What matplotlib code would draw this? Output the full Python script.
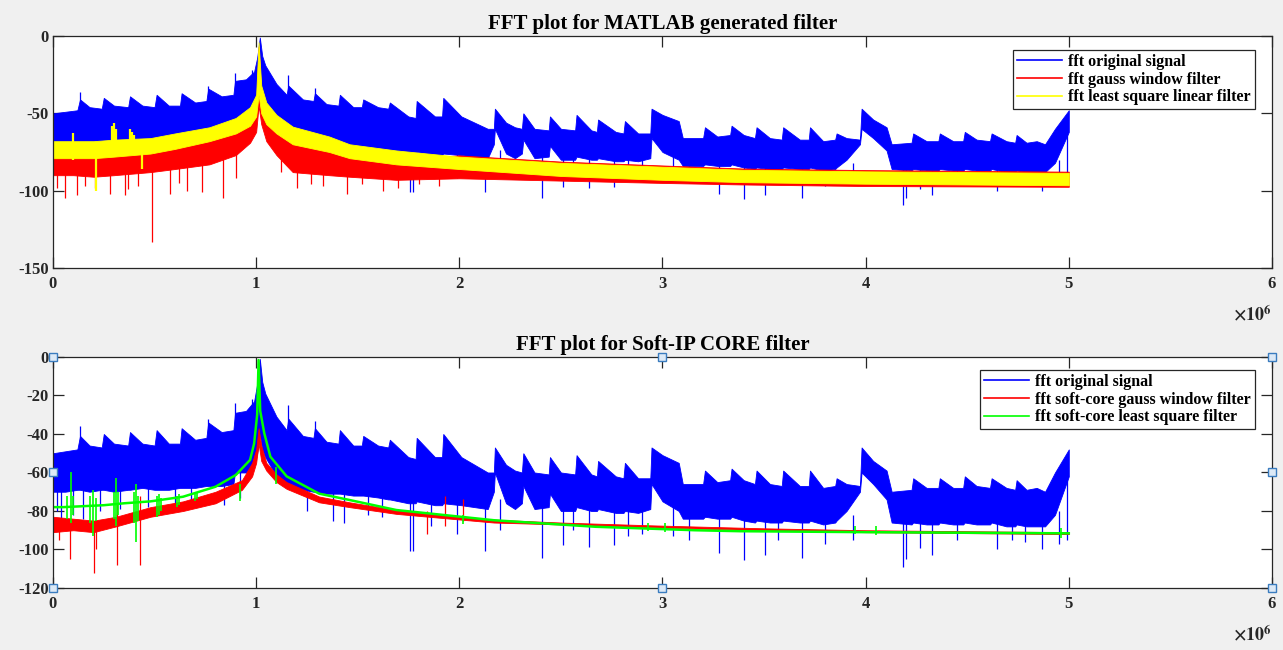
import numpy as np
import matplotlib
matplotlib.use("Agg")
import matplotlib.pyplot as plt
from matplotlib.lines import Line2D

plt.rcParams['font.family'] = ['Liberation Serif', 'DejaVu Serif']
plt.rcParams['font.weight'] = 'bold'
plt.rcParams['mathtext.fontset'] = 'stix'
plt.rcParams['axes.unicode_minus'] = False

# frequency axis in units of 1e6 Hz, magnitudes in dB

# original signal (same in both plots): dense band, upper / lower edge
blue_x = [0.000, 0.060, 0.120, 0.133, 0.180, 0.240, 0.250, 0.300, 0.370, 0.379,
          0.440, 0.500, 0.510, 0.570, 0.625, 0.633, 0.700, 0.755, 0.764, 0.830,
          0.888, 0.896, 0.950, 0.990, 1.005, 1.018, 1.030, 1.045, 1.100, 1.150,
          1.158, 1.230, 1.282, 1.289, 1.346, 1.405, 1.412, 1.478, 1.520, 1.527,
          1.600, 1.650, 1.658, 1.749, 1.785, 1.790, 1.880, 1.915, 1.921, 2.010,
          2.140, 2.170, 2.175, 2.230, 2.274, 2.308, 2.315, 2.370, 2.440, 2.446,
          2.500, 2.570, 2.577, 2.650, 2.677, 2.683, 2.770, 2.808, 2.815, 2.880,
          2.940, 2.946, 3.000, 3.080, 3.100, 3.200, 3.209, 3.270, 3.333, 3.340,
          3.400, 3.455, 3.463, 3.529, 3.587, 3.594, 3.676, 3.720, 3.726, 3.791,
          3.850, 3.857, 3.906, 3.972, 3.980, 4.037, 4.103, 4.128, 4.226, 4.234,
          4.300, 4.358, 4.365, 4.431, 4.480, 4.488, 4.546, 4.612, 4.620, 4.693,
          4.736, 4.743, 4.792, 4.842, 4.883, 4.932, 5.000]
blue_top = [-50, -49, -48, -41, -46, -47, -40, -45, -46, -39,
            -45, -46, -38, -45, -45, -37, -43, -42, -34, -39,
            -38, -29, -28, -23, -14, -1, -13, -19, -31, -38,
            -32, -41, -42, -37, -44, -45, -38, -46, -46, -41,
            -46, -47, -43, -52, -53, -42, -52, -52, -40, -52,
            -60, -60, -47, -56, -59, -60, -50, -60, -61, -52,
            -60, -61, -51, -61, -62, -54, -62, -63, -55, -63,
            -63, -47, -51, -55, -66, -66, -59, -65, -64, -58,
            -64, -66, -59, -66, -67, -59, -67, -67, -59, -68,
            -67, -63, -66, -67, -47, -54, -59, -70, -69, -63,
            -68, -68, -63, -68, -68, -62, -67, -68, -63, -68,
            -69, -64, -69, -68, -70, -60, -48]
blue_bot = [-70, -70, -69, -69, -70, -69, -69, -70, -69, -69,
            -68, -69, -69, -69, -68, -68, -68, -67, -67, -67,
            -66, -60, -60, -56, -50, -40, -48, -52, -62, -66,
            -66, -69, -70, -70, -71, -71, -71, -72, -72, -72,
            -73, -74, -74, -76, -76, -75, -77, -77, -76, -77,
            -79, -70, -60, -76, -79, -76, -67, -79, -78, -71,
            -80, -80, -78, -80, -80, -79, -81, -81, -80, -81,
            -79, -66, -75, -80, -84, -84, -83, -84, -84, -83,
            -85, -86, -85, -86, -86, -85, -86, -86, -85, -87,
            -86, -85, -80, -70, -60, -66, -74, -86, -87, -86,
            -87, -87, -86, -87, -87, -86, -87, -87, -86, -88,
            -88, -87, -88, -88, -88, -82, -62]
# thin excursions of the original signal
blue_spk_x = [0.02, 0.04, 0.10, 0.15, 0.23, 0.33, 0.47, 0.60, 0.68, 0.84, 0.92,
              1.25, 1.38, 1.43, 1.55, 1.62, 1.757, 1.77, 1.86, 1.99, 2.126, 2.20,
              2.405, 2.51, 2.56, 2.64, 2.76, 2.83, 2.90, 3.05, 3.13, 3.28, 3.40,
              3.504, 3.57, 3.685, 3.80, 3.94, 4.185, 4.20, 4.27, 4.325, 4.45,
              4.645, 4.72, 4.785, 4.87, 4.95, 4.99]
blue_spk_lo = [-80, -85, -82, -84, -80, -79, -78, -79, -78, -77, -73,
               -80, -85, -86, -82, -83, -101, -101, -88, -92, -101, -90,
               -104.6, -97.7, -90, -98.5, -97.7, -93, -92, -93, -95, -102, -105.5,
               -103, -95, -104.6, -97, -95, -109, -105, -99, -103, -95,
               -100, -95, -96, -100, -97, -95]
blue_spk_hi = [-65, -65, -65, -65, -65, -65, -64, -64, -64, -62, -50,
               -66, -66, -68, -68, -70, -72, -72, -72, -74, -75, -74,
               -76, -76, -76, -76, -77, -77, -77, -70, -80, -80, -82,
               -82, -82, -82, -82, -82, -84, -84, -84, -84, -84,
               -84, -84, -84, -84, -80, -62]
blue_up_x = [0.133, 0.764, 0.896, 0.980, 1.158, 1.289]
blue_up_hi = [-36, -32, -24, -22, -25, -33.5]

# MATLAB gauss window filter
red1_x = [0, 0.1, 0.2, 0.3, 0.48, 0.6, 0.77, 0.9, 0.97, 1.0, 1.012, 1.025,
          1.05, 1.1, 1.18, 1.36, 1.46, 1.69, 2.0, 2.5, 3.0, 3.4, 4.0, 5.0]
red1_top = [-76, -76, -76, -75, -73, -70, -65, -59, -52, -44, -7, -38,
            -50, -58, -66, -72, -76, -79.5, -77.2, -81.2, -83.7, -85.7, -86.7, -87.7]
red1_bot = [-90, -90, -91, -90, -88, -86, -83, -77, -69, -62, -45, -57,
            -68, -77, -88, -90, -91, -93, -92, -93.5, -95, -96, -97, -97.5]
red1_spk_x = [0.02, 0.06, 0.116, 0.16, 0.207, 0.281, 0.354, 0.37, 0.42, 0.486, 0.576,
              0.62, 0.658, 0.731, 0.838, 0.90, 1.12, 1.20, 1.27, 1.33, 1.445, 1.52,
              1.625, 1.70, 1.80, 1.90]
red1_spk_lo = [-98, -105, -103, -97, -98, -102, -103, -99, -97, -133, -102,
               -95, -100, -101, -105, -92, -88, -98, -96, -97, -102, -96,
               -100, -98, -96, -97]
red1_spk_hi = [-85, -85, -85, -85, -85, -85, -84, -84, -84, -82, -82,
               -80, -80, -78, -76, -72, -70, -80, -84, -85, -86, -86,
               -88, -88, -89, -89]

# MATLAB least square linear filter
yel_x = [0, 0.1, 0.2, 0.3, 0.48, 0.6, 0.77, 0.9, 0.97, 1.0, 1.012, 1.025,
         1.05, 1.1, 1.18, 1.36, 1.46, 1.69, 2.0, 2.5, 3.0, 3.4, 4.0, 5.0]
yel_top = [-68, -68, -68, -67, -66, -63, -59, -53, -46, -38, -4, -32,
           -43, -51, -58.6, -65, -70, -74, -78, -82, -84.5, -86.5, -87.5, -88.5]
yel_bot = [-79, -79, -79, -78, -76, -73, -68, -63, -58, -52, -38, -50,
           -57, -63, -70, -75, -79, -83, -86, -90.5, -93, -94.5, -95.5, -96.5]
yel_spk_x = [0.10, 0.21, 0.29, 0.30, 0.31, 0.38, 0.39, 0.40, 0.44]
yel_spk_lo = [-80, -100, -75, -75, -75, -75, -75, -75, -86]
yel_spk_hi = [-63, -72, -58, -56, -60, -60, -62, -64, -72]

# soft-core gauss window filter
red2_x = [0, 0.1, 0.2, 0.31, 0.48, 0.64, 0.8, 0.93, 0.98, 1.0, 1.012, 1.025,
          1.05, 1.1, 1.15, 1.31, 1.46, 1.69, 2.17, 2.5, 2.96, 3.5, 4.0, 5.0]
red2_top = [-83, -84, -85, -83, -78, -75, -70, -64, -55, -48, -37, -46,
            -55, -61, -65, -72.5, -75.5, -79.5, -84.5, -86, -87.5, -89, -90, -91]
red2_bot = [-91, -90, -91, -88, -83, -80, -76, -69, -62, -55, -45, -54,
            -59, -65, -68.5, -75.5, -78, -81.5, -86, -87, -88.5, -90, -91, -92]
red2_spk_x = [0.03, 0.085, 0.20, 0.21, 0.313, 0.428, 1.84, 1.93, 2.02]
red2_spk_lo = [-95, -105, -112, -100, -108, -108, -92, -88, -85]
red2_spk_hi = [-85, -85, -85, -85, -76, -72, -80, -72, -74]

# soft-core least square filter
grn_x = [0, 0.05, 0.15, 0.25, 0.35, 0.48, 0.64, 0.8, 0.9, 0.97, 0.99, 1.005,
         1.012, 1.02, 1.04, 1.07, 1.15, 1.31, 1.46, 1.69, 2.17, 2.67, 3.16,
         3.38, 4.0, 5.0]
grn_y = [-78, -78, -77.5, -77, -76, -75, -72.6, -67.4, -61.3, -53.5, -45, -30,
         -1.6, -28, -39.6, -51.8, -62, -71, -74.3, -79.5, -84.8, -88.2, -90,
         -90.5, -91, -91.6]
grn_spk_x = [0.07, 0.09, 0.10, 0.18, 0.198, 0.21, 0.30, 0.31, 0.32, 0.40, 0.41,
             0.42, 0.51, 0.52, 0.53, 0.61, 0.62, 0.70, 0.71, 0.92, 1.10, 2.02,
             2.93, 3.01, 3.95, 4.05, 4.96]
grn_spk_lo = [-84, -86, -82, -86, -93, -85, -84, -88, -82, -86, -96,
              -85, -83, -82, -80, -78, -77, -75, -74, -75, -66, -87,
              -90.5, -91, -92, -92.5, -94]
grn_spk_hi = [-72, -60, -72, -72, -69, -73, -70, -63, -70, -70, -66,
              -72, -72, -71, -73, -72, -71, -71, -70, -66, -57, -82,
              -86, -86.5, -88, -88, -89]

titles = ["FFT plot for MATLAB generated filter", "FFT plot for Soft-IP CORE filter"]
labels1 = ["fft original signal", "fft gauss window filter", "fft least square linear filter"]
labels2 = ["fft original signal", "fft soft-core gauss window filter", "fft soft-core least square filter"]

BLUE, RED, YEL, GRN = "#0000ff", "#ff0000", "#ffff00", "#00ff00"
AXC = "#262626"


def band(ax, x, top, bot, color, z):
    ax.fill_between(x, top, bot, color=color, lw=0.6, edgecolor=color, zorder=z)


def spikes(ax, x, lo, hi, color, z, lw=0.9):
    ax.vlines(x, lo, hi, color=color, lw=lw, zorder=z)


def style(ax, ylim, yticks, title):
    ax.set_facecolor("white")
    ax.set_xlim(0, 6)
    ax.set_ylim(*ylim)
    ax.set_xticks(range(7))
    ax.set_yticks(yticks)
    ax.tick_params(direction="in", length=8, width=0.9, colors=AXC, labelsize=12,
                   top=True, right=True, pad=6)
    ax.tick_params(axis="y", pad=3)
    for s in ax.spines.values():
        s.set_color(AXC)
        s.set_linewidth(0.9)
        s.set_zorder(5)
    ax.set_title(title, fontsize=15, fontweight="bold", pad=5)
    ax.text(1.0, -0.2, r"$\times10^{6}$", transform=ax.transAxes, ha="right",
            va="center", fontsize=13, color=AXC)


fig = plt.figure(figsize=(12.83, 6.5), dpi=100, facecolor="#f0f0f0")
ax1 = fig.add_axes([0.0413, 0.5877, 0.9501, 0.3569])
ax2 = fig.add_axes([0.0413, 0.0954, 0.9501, 0.3554])

# top plot
band(ax1, blue_x, blue_top, blue_bot, BLUE, 2)
spikes(ax1, blue_spk_x, blue_spk_lo, blue_spk_hi, BLUE, 2)
spikes(ax1, blue_up_x, [-50] * len(blue_up_x), blue_up_hi, BLUE, 2)
band(ax1, red1_x, red1_top, red1_bot, RED, 3)
spikes(ax1, red1_spk_x, red1_spk_lo, red1_spk_hi, RED, 3)
band(ax1, yel_x, yel_top, yel_bot, YEL, 4)
spikes(ax1, yel_spk_x, yel_spk_lo, yel_spk_hi, YEL, 4, lw=1.6)
style(ax1, (-150, 0), [-150, -100, -50, 0], titles[0])

# bottom plot
band(ax2, blue_x, blue_top, blue_bot, BLUE, 2)
spikes(ax2, blue_spk_x, blue_spk_lo, blue_spk_hi, BLUE, 2)
spikes(ax2, blue_up_x, [-50] * len(blue_up_x), blue_up_hi, BLUE, 2)
band(ax2, red2_x, red2_top, red2_bot, RED, 3)
spikes(ax2, red2_spk_x, red2_spk_lo, red2_spk_hi, RED, 3)
ax2.plot(grn_x, grn_y, color=GRN, lw=1.8, zorder=4)
spikes(ax2, grn_spk_x, grn_spk_lo, grn_spk_hi, GRN, 4, lw=1.2)
style(ax2, (-120, 0), [-120, -100, -80, -60, -40, -20, 0], titles[1])

# selection handles on the lower axes
hx = [0, 0.5, 1, 0, 1, 0, 0.5, 1]
hy = [0, 0, 0, 0.5, 0.5, 1, 1, 1]
ax2.plot(hx, hy, "s", ms=6, mfc="#dce9f6", mec="#3a7cbf", mew=1,
         transform=ax2.transAxes, clip_on=False, zorder=20)

for ax, labs, cols, anchor in [(ax1, labels1, [BLUE, RED, YEL], (0.986, 0.94)),
                               (ax2, labels2, [BLUE, RED, GRN], (0.986, 0.944))]:
    hs = [Line2D([], [], color=c, lw=1.2) for c in cols]
    leg = ax.legend(hs, labs, loc="upper right", bbox_to_anchor=anchor,
                    fancybox=False, framealpha=1, edgecolor=AXC,
                    prop={"size": 11.5, "weight": "bold"}, handlelength=2.8,
                    handletextpad=0.4, labelspacing=0.1, borderpad=0.25,
                    borderaxespad=0)
    leg.get_frame().set_linewidth(0.9)
    leg.set_zorder(10)

fig.savefig("out.png", dpi=100, facecolor=fig.get_facecolor())
